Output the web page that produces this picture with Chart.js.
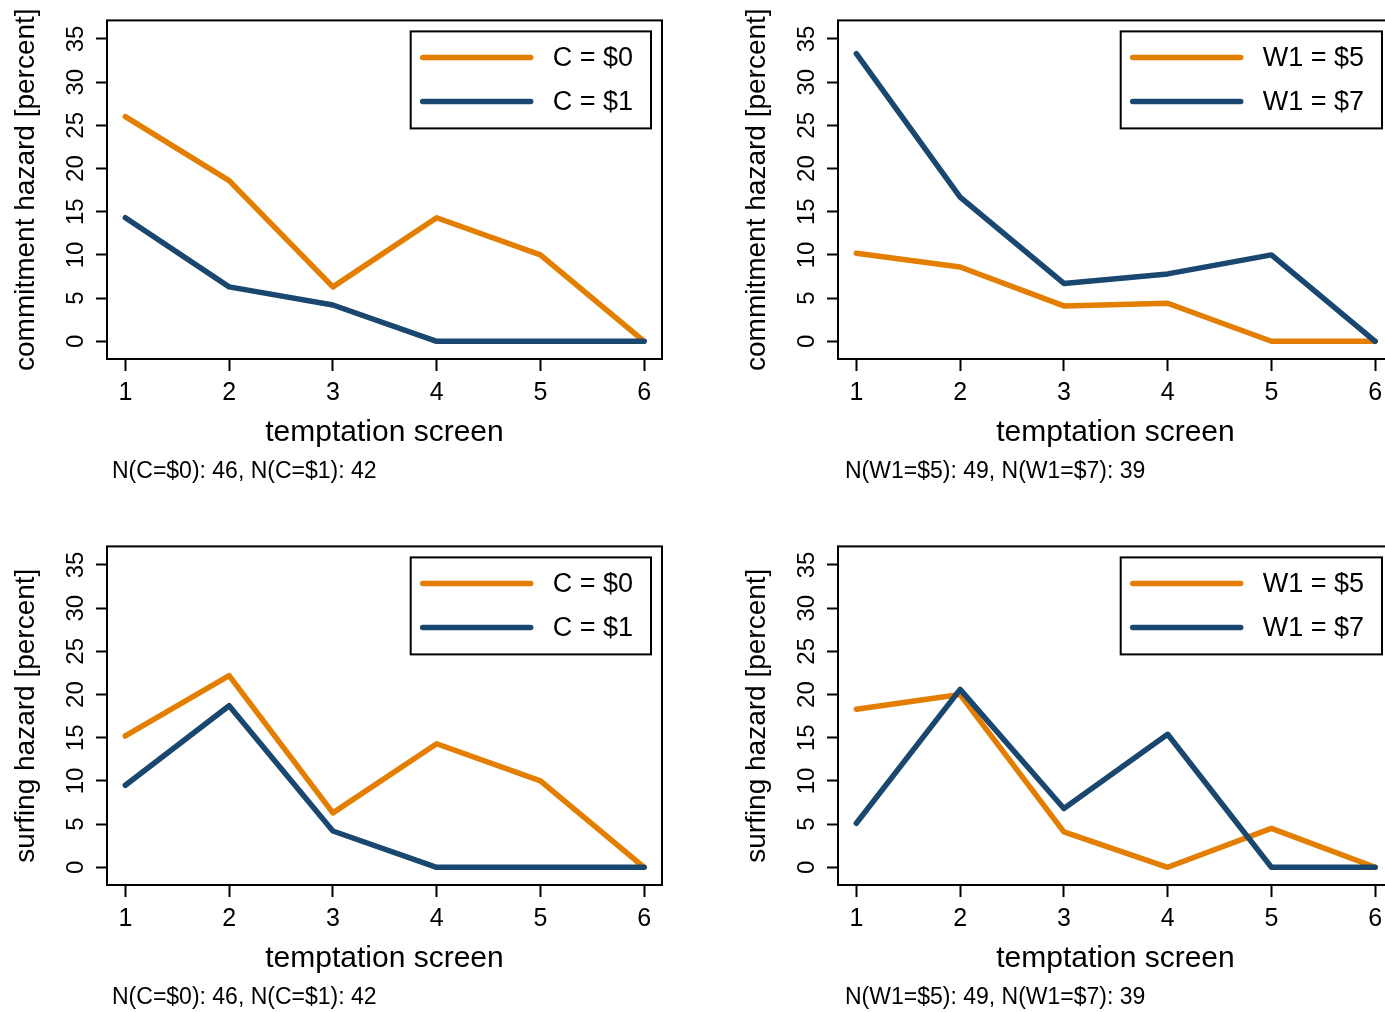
<!DOCTYPE html>
<html>
<head>
<meta charset="utf-8">
<script src="https://cdn.jsdelivr.net/npm/chart.js@4.4.1/dist/chart.umd.min.js"></script>
<style>
  html, body { margin: 0; padding: 0; overflow: hidden; background: #fff; width: 1385px; height: 1012px; }
  .panel { position: absolute; }
  .note { position: absolute; font: 23px "Liberation Sans", Arial, sans-serif; color: #000; line-height: 23px; white-space: nowrap; }
</style>
</head>
<body>
<canvas id="c1" class="panel" width="692" height="490" style="left:0;top:0"></canvas>
<canvas id="c2" class="panel" width="692" height="490" style="left:731px;top:0"></canvas>
<canvas id="c3" class="panel" width="692" height="490" style="left:0;top:526px"></canvas>
<canvas id="c4" class="panel" width="692" height="490" style="left:731px;top:526px"></canvas>
<div class="note" id="n1" style="left:112px;top:459px"></div>
<div class="note" id="n2" style="left:845px;top:459px"></div>
<div class="note" id="n3" style="left:112px;top:985px"></div>
<div class="note" id="n4" style="left:845px;top:985px"></div>
<script>
const screens = [1, 2, 3, 4, 5, 6]
const yTicks = [0, 5, 10, 15, 20, 25, 30, 35]

// commitment hazard (percent)
const commitC0 = [26.0, 18.6, 6.3, 14.3, 10.0, 0]
const commitC1 = [14.3, 6.3, 4.2, 0, 0, 0]
const commitW5 = [10.2, 8.6, 4.1, 4.4, 0, 0]
const commitW7 = [33.3, 16.7, 6.7, 7.8, 10.0, 0]

// surfing hazard (percent)
const surfC0 = [15.2, 22.2, 6.3, 14.3, 10.0, 0]
const surfC1 = [9.5, 18.7, 4.2, 0, 0, 0]
const surfW5 = [18.3, 20.0, 4.1, 0, 4.5, 0]
const surfW7 = [5.1, 20.6, 6.8, 15.4, 0, 0]

const labelsC = ["C = $0", "C = $1"]
const labelsW = ["W1 = $5", "W1 = $7"]
const noteC = "N(C=$0): 46, N(C=$1): 42"
const noteW = "N(W1=$5): 49, N(W1=$7): 39"

const ORANGE = "#e37e00"
const NAVY = "#1a476f"
const FONT = '"Liberation Sans", Arial, sans-serif'

Chart.defaults.font.family = FONT
Chart.defaults.color = "#000"

// box round the plot region
const frame = {
  id: "frame",
  afterDatasetsDraw(chart) {
    const { ctx, chartArea: a } = chart
    ctx.save()
    ctx.strokeStyle = "#000"
    ctx.lineWidth = 2
    ctx.strokeRect(a.left, a.top, a.right - a.left, a.bottom - a.top)
    ctx.restore()
  }
}

// legend inside the plot, top right corner, with a border
const legendBox = {
  id: "legendBox",
  afterDatasetsDraw(chart) {
    const { ctx, chartArea } = chart
    const sets = chart.data.datasets
    ctx.save()
    ctx.font = "27px " + FONT
    const textW = Math.max(...sets.map(d => ctx.measureText(d.label).width))
    const w = 142 + textW + 18
    const h = 97
    const x = chartArea.right - 11 - w
    const y = chartArea.top + 11
    ctx.fillStyle = "#fff"
    ctx.fillRect(x, y, w, h)
    ctx.strokeStyle = "#000"
    ctx.lineWidth = 2
    ctx.strokeRect(x, y, w, h)
    sets.forEach((d, i) => {
      const cy = y + 26 + i * 44
      ctx.beginPath()
      ctx.moveTo(x + 12, cy)
      ctx.lineTo(x + 120, cy)
      ctx.strokeStyle = d.borderColor
      ctx.lineWidth = 5.5
      ctx.lineCap = "round"
      ctx.stroke()
      ctx.fillStyle = "#000"
      ctx.textBaseline = "middle"
      ctx.fillText(d.label, x + 142, cy + 1)
    })
    ctx.restore()
  }
}

function makeSet(label, values, color, order) {
  return {
    label: label,
    data: screens.map((s, i) => ({ x: s, y: values[i] })),
    borderColor: color,
    backgroundColor: color,
    borderWidth: 5.5,
    borderJoinStyle: "round",
    borderCapStyle: "round",
    pointRadius: 0,
    tension: 0,
    order: order
  }
}

function panel(id, yTitle, labels, orangeVals, navyVals) {
  return new Chart(id, {
    type: "line",
    data: {
      datasets: [
        makeSet(labels[0], orangeVals, ORANGE, 1),
        makeSet(labels[1], navyVals, NAVY, 0)
      ]
    },
    options: {
      responsive: false,
      animation: false,
      layout: { padding: { left: 0, top: 20, right: 30, bottom: 0 } },
      plugins: { legend: { display: false }, tooltip: { enabled: false } },
      scales: {
        x: {
          type: "linear",
          min: 0.823,
          max: 6.172,
          afterBuildTicks: s => { s.ticks = screens.map(v => ({ value: v })) },
          afterFit: s => { s.height = 131 },
          grid: { drawOnChartArea: false, tickLength: 12, tickColor: "#000", tickWidth: 2 },
          border: { display: false },
          ticks: { maxRotation: 0, padding: 7, color: "#000", font: { size: 25 } },
          title: { display: true, text: "temptation screen", color: "#000", font: { size: 30 }, padding: { top: 0, bottom: 39 } }
        },
        y: {
          min: -2.05,
          max: 37.15,
          afterBuildTicks: s => { s.ticks = yTicks.map(v => ({ value: v })) },
          afterFit: s => { s.width = 107 },
          grid: { drawOnChartArea: false, tickLength: 11, tickColor: "#000", tickWidth: 2 },
          border: { display: false },
          ticks: { minRotation: 90, maxRotation: 90, crossAlign: "center", padding: 6, color: "#000", font: { size: 24 } },
          title: { display: true, text: yTitle, color: "#000", font: { size: 28 }, padding: { top: 9, bottom: 0 } }
        }
      }
    },
    plugins: [frame, legendBox]
  })
}

panel("c1", "commitment hazard [percent]", labelsC, commitC0, commitC1)
panel("c2", "commitment hazard [percent]", labelsW, commitW5, commitW7)
panel("c3", "surfing hazard [percent]", labelsC, surfC0, surfC1)
panel("c4", "surfing hazard [percent]", labelsW, surfW5, surfW7)

document.getElementById("n1").textContent = noteC
document.getElementById("n2").textContent = noteW
document.getElementById("n3").textContent = noteC
document.getElementById("n4").textContent = noteW
</script>
</body>
</html>
